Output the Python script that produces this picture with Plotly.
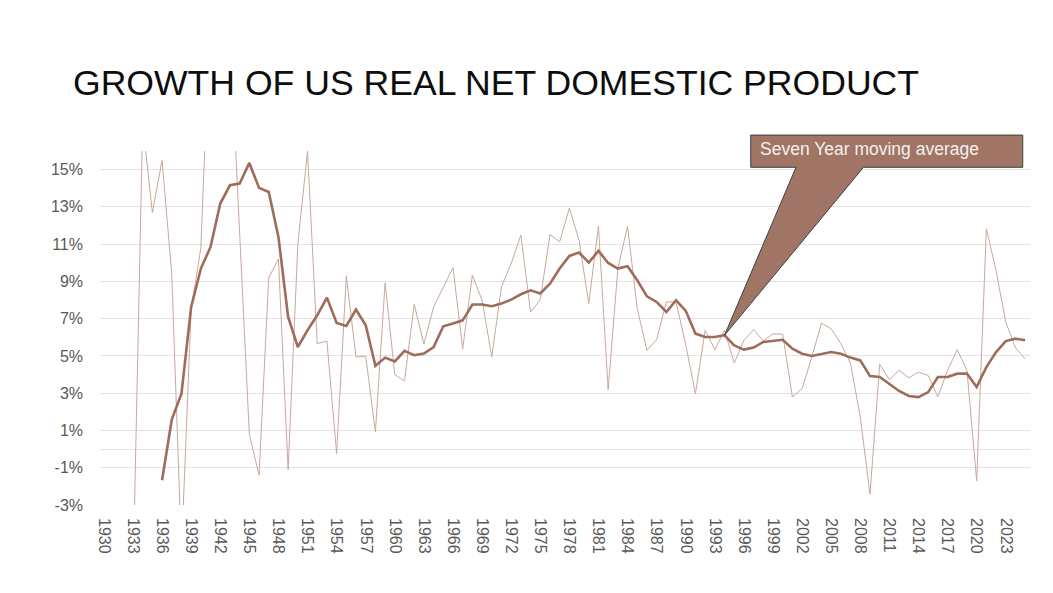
import plotly.graph_objects as go

# annual growth, % (nominal-looking NDP series as drawn in the source chart)
years = list(range(1930, 2026))
growth = [-13.0, -17.0, -22.0, -7.0, 17.5, 12.7, 15.5, 9.4, -5.5, 7.5,
          10.8, 24.0, 27.0, 22.4, 11.2, 0.8, -1.4, 9.2, 10.2, -1.1,
          11.0, 16.0, 5.66, 5.8, -0.24, 9.28, 4.95, 4.98, 0.92, 8.92,
          4.0, 3.66, 7.77, 5.63, 7.63, 8.7, 9.74, 5.38, 9.33, 7.99,
          4.95, 8.7, 9.96, 11.48, 7.36, 8.02, 11.51, 11.12, 12.94, 11.21,
          7.81, 11.96, 3.19, 9.69, 11.96, 7.54, 5.3, 5.87, 7.9, 7.9,
          5.6, 2.97, 6.37, 5.34, 6.37, 4.62, 5.84, 6.41, 5.8, 6.19,
          6.16, 2.8, 3.24, 4.94, 6.77, 6.46, 5.66, 4.59, 1.72, -2.43,
          4.55, 3.73, 4.23, 3.83, 4.13, 3.95, 2.8, 4.23, 5.34, 4.23,
          -1.71, 11.83, 9.59, 6.82, 5.44, 4.85]

# seven year trailing moving average, starts 1936
ma_years = list(range(1936, 2026))
moving_avg = [-1.67, 1.58, 2.98, 7.63, 9.69, 10.85, 13.18, 14.16, 14.25, 15.36,
              14.02, 13.8, 11.39, 7.09, 5.48, 6.38, 7.18, 8.13, 6.77, 6.61,
              7.49, 6.65, 4.47, 4.91, 4.71, 5.27, 5.04, 5.13, 5.48, 6.59,
              6.74, 6.91, 7.76, 7.76, 7.67, 7.81, 8.02, 8.31, 8.52, 8.35,
              8.88, 9.69, 10.37, 10.55, 10.01, 10.64, 9.99, 9.69, 9.81, 9.06,
              8.2, 7.9, 7.36, 7.99, 7.42, 6.2, 6.02, 6.02, 6.11, 5.57,
              5.34, 5.45, 5.75, 5.79, 5.87, 5.39, 5.12, 5.0, 5.09, 5.21,
              5.12, 4.91, 4.76, 3.92, 3.87, 3.48, 3.12, 2.85, 2.79, 3.06,
              3.87, 3.87, 4.05, 4.05, 3.33, 4.4, 5.21, 5.8, 5.93, 5.84]

x_ticks = list(range(1930, 2024, 3))
y_ticks = [-3, -1, 1, 3, 5, 7, 9, 11, 13, 15]
y_labels = [f"{v}%" for v in y_ticks]

callout_text = "Seven Year moving average"
callout_year = 1994

FONT = "Liberation Sans, Arial, sans-serif"
THICK = "#9F6C5B"
THIN = "#C9A89B"

x_range = [1929.6, 2025.5]
y_range = [-3, 16]

# page body has an 8px margin, so the figure is 16px smaller than the window
W, H = 1037, 577

fig = go.Figure()
fig.add_trace(go.Scatter(x=years, y=growth, mode="lines",
                         line=dict(color=THIN, width=1), hoverinfo="skip"))
fig.add_trace(go.Scatter(x=ma_years, y=moving_avg, mode="lines",
                         line=dict(color=THICK, width=2.6), hoverinfo="skip"))

# callout box + wedge, paper coords, tip sits on the moving average point
tip_val = moving_avg[ma_years.index(callout_year)]
tip_x = (callout_year - x_range[0]) / (x_range[1] - x_range[0])
tip_y = (tip_val - y_range[0]) / (y_range[1] - y_range[0])
bx0, bx1, by0, by1 = 0.6997, 0.9922, 0.954, 1.045
wa, wb = 0.7484, 0.821
path = (f"M {bx0},{by1} L {bx1},{by1} L {bx1},{by0} L {wb},{by0} "
        f"L {tip_x},{tip_y} L {wa},{by0} L {bx0},{by0} Z")
fig.add_shape(type="path", path=path, xref="paper", yref="paper",
              fillcolor="#A07565", line=dict(color="#3f3f3f", width=1))
fig.add_annotation(text=callout_text, xref="paper", yref="paper",
                   x=0.708, y=1.0068, xanchor="left", yanchor="middle",
                   showarrow=False, font=dict(family=FONT, size=17.5, color="#F4F0EE"))

fig.update_layout(
    width=W, height=H,
    margin=dict(l=92, r=15, t=143, b=80),
    paper_bgcolor="white", plot_bgcolor="white",
    showlegend=False,
    title=dict(text="GROWTH OF US REAL NET DOMESTIC PRODUCT",
               x=65 / W, xanchor="left", xref="container",
               y=1 - 75 / H, yanchor="middle", yref="container",
               font=dict(family=FONT, size=35.6, color="#0d0d0d")),
    font=dict(family=FONT, size=16, color="#595959"),
)
fig.update_xaxes(range=x_range, tickvals=x_ticks, tickangle=90, showgrid=False,
                 zeroline=False, showline=False, ticks="", ticklabelstandoff=12,
                 tickfont=dict(size=16, color="#595959"))
fig.update_yaxes(range=y_range, tickvals=y_ticks, ticktext=y_labels,
                 showgrid=True, gridcolor="#E3E3E3", gridwidth=1,
                 zeroline=True, zerolinecolor="#E3E3E3", zerolinewidth=1,
                 showline=False, ticks="", ticklabelstandoff=16,
                 tickfont=dict(size=16, color="#595959"))

fig.write_html("out.html")
